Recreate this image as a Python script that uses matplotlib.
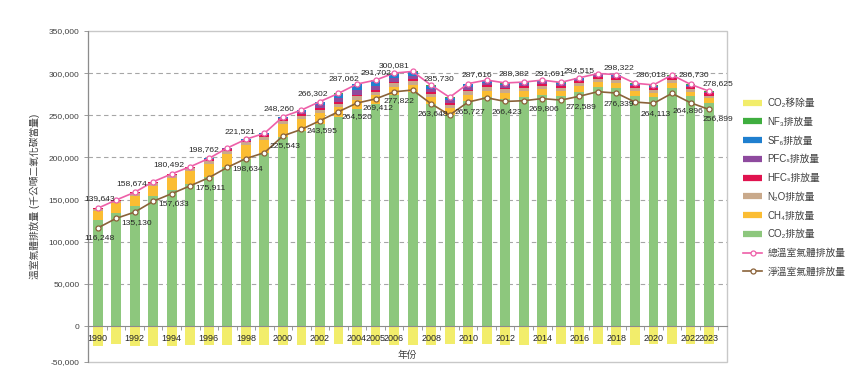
import numpy as np
import matplotlib
matplotlib.use("Agg")
import matplotlib.pyplot as plt
from matplotlib.lines import Line2D
from matplotlib.patches import Rectangle

plt.rcParams['font.family'] = ['Liberation Sans', 'Noto Sans CJK TC', 'DejaVu Sans']

# data (千公噸二氧化碳當量)
years = list(range(1990, 2024))
gross = [139643, 149500, 158674, 171200, 180492, 189000, 198762, 211200, 221521, 228600,
         248260, 256200, 266302, 276000, 287062, 291702, 300081, 302000, 285730, 271300,
         287616, 291800, 288382, 289400, 291691, 289000, 294515, 299500, 298322, 288000,
         286018, 297800, 286730, 278625]
net = [116248, 127700, 135130, 148000, 157033, 166400, 175911, 188200, 198634, 205600,
       225543, 233300, 243595, 254300, 264520, 269412, 277822, 280000, 263648, 250300,
       265727, 270800, 266423, 267300, 269806, 268000, 272589, 278000, 276339, 265700,
       264113, 276000, 264896, 256899]
co2 = [125443, 134600, 142874, 154000, 161792, 168800, 177062, 188500, 198521, 205200,
       224160, 231200, 239702, 247700, 257362, 263502, 274081, 277400, 262930, 250700,
       266616, 271800, 269682, 271400, 274391, 272300, 278215, 283500, 282622, 272700,
       271118, 282800, 272330, 265025]
ch4 = [10500, 11000, 11600, 12600, 13600, 14600, 15500, 16000, 15800, 15500,
       15000, 14000, 13000, 12000, 11000, 10000, 9500, 9000, 8500, 8000,
       7800, 7500, 7200, 7000, 6800, 6500, 6300, 6000, 5800, 5600,
       5400, 5300, 5200, 5000]
n2o = [3000, 3100, 3200, 3300, 3400, 3500, 3600, 3700, 3800, 3900,
       4000, 4000, 4100, 4200, 4300, 4400, 4400, 4300, 4200, 4000,
       4100, 4100, 4000, 3900, 3800, 3700, 3600, 3600, 3500, 3500,
       3400, 3400, 3300, 3300]
hfc = [600, 700, 800, 900, 1100, 1300, 1500, 1700, 1900, 2000,
       2000, 1900, 1800, 1800, 1800, 1800, 1800, 1800, 1800, 1800,
       1900, 2000, 2000, 2100, 2100, 2200, 2300, 2400, 2500, 2500,
       2500, 2600, 2600, 2600]
pfc = [0, 0, 100, 200, 300, 400, 600, 700, 800, 1000,
       1500, 2500, 3500, 4500, 5200, 5000, 4700, 4300, 3800, 3200,
       3200, 3000, 2800, 2500, 2300, 2100, 2000, 2000, 1900, 1800,
       1700, 1800, 1600, 1300]
sf6 = [100, 100, 100, 200, 300, 400, 500, 600, 700, 1000,
       1500, 2500, 4000, 5500, 7000, 6500, 5000, 4500, 3800, 3000,
       3200, 2600, 2000, 1800, 1600, 1500, 1400, 1300, 1300, 1200,
       1200, 1200, 1100, 900]
nf3 = [0, 0, 0, 0, 0, 0, 0, 0, 0, 0,
       100, 100, 200, 300, 400, 500, 600, 700, 700, 600,
       800, 800, 700, 700, 700, 700, 700, 700, 700, 700,
       700, 700, 600, 500]
tick_years = [1990, 1992, 1994, 1996, 1998, 2000, 2002, 2004, 2005, 2006, 2008,
              2010, 2012, 2014, 2016, 2018, 2020, 2022, 2023]
label_years = tick_years

# label nudges in pixels (dx, dy) from each point
gross_off = {1990: (2, 10), 1992: (-3, 9), 1994: (-3, 9), 1996: (-5, 9), 1998: (-6, 8),
             2000: (-4, 8), 2002: (-7, 8), 2004: (-13, 6), 2005: (0, 8), 2006: (0, 8),
             2008: (8, 7), 2010: (9, 9), 2012: (9, 9), 2014: (8, 7), 2016: (0, 7),
             2018: (2, 7), 2020: (-3, 10), 2022: (3, 10), 2023: (9, 8)}
net_off = {2004: (0, -13), 2005: (2, -9), 2006: (5, -9), 2022: (-3, -8), 2023: (9, -9)}

removal = np.array(net) - np.array(gross)

c_co2 = '#8dc77d'
c_ch4 = '#fbbd33'
c_n2o = '#c9a98b'
c_hfc = '#e0134f'
c_pfc = '#8e4a9e'
c_sf6 = '#1f7fcf'
c_nf3 = '#3fae3f'
c_rem = '#f2ed6b'
c_gross = '#ee5fa8'
c_net = '#8a6239'

fig = plt.figure(figsize=(8.65, 3.70), dpi=100)
ax = fig.add_axes([88 / 865, 1 - 362 / 370, (727 - 88) / 865, (362 - 31) / 370])

x = np.arange(len(years))
w = 0.53
bottom = np.zeros(len(years))
for vals, col in [(co2, c_co2), (ch4, c_ch4), (n2o, c_n2o), (hfc, c_hfc),
                  (pfc, c_pfc), (sf6, c_sf6), (nf3, c_nf3)]:
    ax.bar(x, vals, w, bottom=bottom, color=col, linewidth=0, zorder=1)
    bottom += np.array(vals)
ax.bar(x, removal, w, color=c_rem, linewidth=0, zorder=1)

ax.plot(x, gross, color=c_gross, lw=1.2, marker='o', ms=3.6, mfc='white',
        mec=c_gross, mew=0.9, zorder=3)
ax.plot(x, net, color=c_net, lw=1.2, marker='o', ms=3.6, mfc='white',
        mec=c_net, mew=0.9, zorder=3)

px = 0.72  # points per pixel at 100 dpi
for i, yr in enumerate(years):
    if yr in label_years:
        dx, dy = gross_off.get(yr, (0, 8))
        ax.annotate(f'{gross[i]:,}', (x[i], gross[i]), xytext=(dx * px, dy * px),
                    textcoords='offset points', ha='center', va='center',
                    fontsize=6.1, color='#262626', zorder=4)
        dx, dy = net_off.get(yr, (2, -10))
        ax.annotate(f'{net[i]:,}', (x[i], net[i]), xytext=(dx * px, dy * px),
                    textcoords='offset points', ha='center', va='center',
                    fontsize=6.1, color='#262626', zorder=4)

# gridlines behind bars
for gy in range(50000, 350000, 50000):
    ax.axhline(gy, color='#a6a6a6', lw=0.8, ls=(0, (4, 3)), zorder=0.5)

ax.set_xlim(-0.52, 33.97)
ymin = -42700
ax.set_ylim(ymin, 350000)
yt = [ymin] + list(range(0, 350001, 50000))
ax.set_yticks(yt)
ax.set_yticklabels(['-50,000'] + [f'{v:,}' for v in range(0, 350001, 50000)])
ax.tick_params(axis='y', labelsize=6, colors='#404040', length=3, width=0.6,
               pad=3, color='#8c8c8c')

ax.set_xticks([years.index(t) for t in tick_years])
ax.set_xticklabels([str(t) for t in tick_years])
ax.set_xticks(np.arange(-0.5, 34, 1), minor=True)
ax.tick_params(axis='x', which='major', length=0, labelsize=6.5, pad=6,
               colors='#262626')
ax.tick_params(axis='x', which='minor', length=3, width=0.6, color='#8c8c8c')

ax.spines['bottom'].set_position(('data', 0))
ax.spines['bottom'].set_color('#8c8c8c')
ax.spines['left'].set_color('#8c8c8c')
ax.spines['top'].set_visible(False)
ax.spines['right'].set_visible(False)
ax.add_patch(Rectangle((0, 0), 1, 1, transform=ax.transAxes, fill=False,
                       edgecolor='#c8c8c8', lw=1, clip_on=False, zorder=0.4))

ax.set_xlabel('年份', fontsize=7, color='#404040', labelpad=5)
ax.set_ylabel('溫室氣體排放量 (千公噸二氧化碳當量)', fontsize=7, color='#404040',
              labelpad=6)

handles = [
    Line2D([], [], color=c_rem, lw=4.5, solid_capstyle='butt'),
    Line2D([], [], color=c_nf3, lw=4.5, solid_capstyle='butt'),
    Line2D([], [], color=c_sf6, lw=4.5, solid_capstyle='butt'),
    Line2D([], [], color=c_pfc, lw=4.5, solid_capstyle='butt'),
    Line2D([], [], color=c_hfc, lw=4.5, solid_capstyle='butt'),
    Line2D([], [], color=c_n2o, lw=4.5, solid_capstyle='butt'),
    Line2D([], [], color=c_ch4, lw=4.5, solid_capstyle='butt'),
    Line2D([], [], color=c_co2, lw=4.5, solid_capstyle='butt'),
    Line2D([], [], color=c_gross, lw=1.2, marker='o', ms=3.6, mfc='white',
           mec=c_gross, mew=0.9),
    Line2D([], [], color=c_net, lw=1.2, marker='o', ms=3.6, mfc='white',
           mec=c_net, mew=0.9),
]
labels = ['CO₂移除量', 'NF₃排放量', 'SF₆排放量', 'PFCₛ排放量', 'HFCₛ排放量',
          'N₂O排放量', 'CH₄排放量', 'CO₂排放量', '總溫室氣體排放量', '淨溫室氣體排放量']
fig.legend(handles, labels, loc='upper left', bbox_to_anchor=(743 / 865, 1 - 98 / 370),
           frameon=False, fontsize=7, handlelength=2.0, handletextpad=0.5,
           labelspacing=0.9, borderpad=0, borderaxespad=0, labelcolor='#404040')

fig.savefig('out.png', dpi=100)
